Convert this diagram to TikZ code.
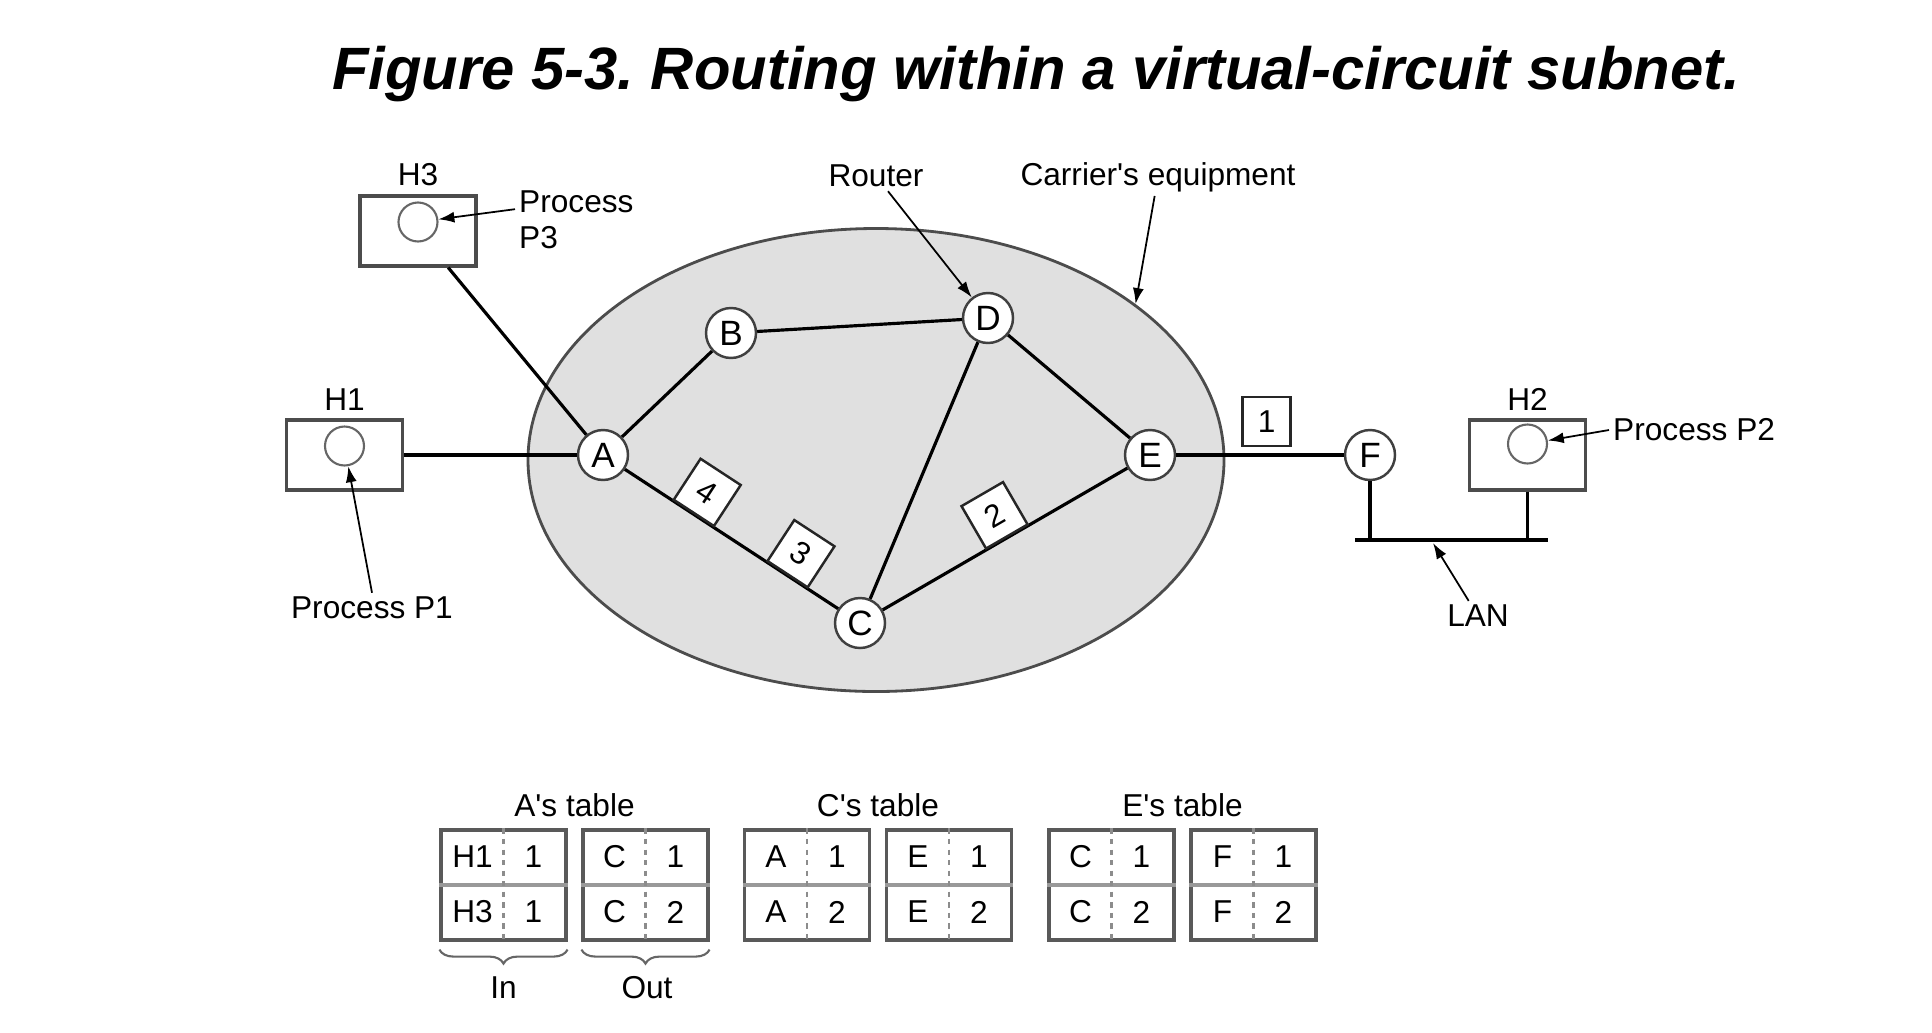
\documentclass[tikz,border=0pt]{standalone}
\usepackage{fontspec}
\setmainfont[Ligatures=TeXOff]{Liberation Sans}
\usepackage{tikz}
\usetikzlibrary{arrows.meta, positioning, calc, shapes.geometric, decorations.pathreplacing}
\tikzset{
	router/.style = {circle, draw=black!75, line width=0.7pt, fill=white, minimum size=0.5cm, inner sep=0pt, font=\fontsize{10}{12}\selectfont},
	host/.style = {rectangle, draw=black!70, line width=0.9pt, minimum width=1.16cm, minimum height=0.70cm, inner sep=0pt},
	proc/.style = {circle, draw=black!60, line width=0.6pt, minimum size=0.39cm, inner sep=0pt},
	link/.style = {line width=0.9pt},
	vcbox/.style = {rectangle, draw=black!85, line width=0.7pt, fill=white, minimum width=0.48cm, minimum height=0.49cm, inner sep=0pt},
	pointer/.style = {line width=0.5pt, -{Latex[length=1.6mm, width=1.1mm]}},
	tabbox/.style = {rectangle, draw=black!65, line width=0.9pt, minimum width=1.25cm, minimum height=1.10cm, inner sep=0pt},
	brace/.style = {decorate, decoration={brace, mirror, amplitude=0.14cm}, draw=black!60, line width=0.6pt}
}

\begin{document}
\begin{tikzpicture}
	\useasboundingbox (0,0) rectangle (19.32,10.32);
	\tikzstyle{every node}=[font=\fontsize{9}{10.2}\selectfont, inner sep=1pt]
	
	\pgfmathsetmacro{\yNet}{5.77}
	\pgfmathsetmacro{\yTab}{1.47}
	
	\node [font=\fontsize{17}{20}\selectfont\bfseries\itshape, anchor=base] (title) at (10.36,9.43) {Figure 5-3.\ Routing within a virtual-circuit subnet.};
	
	% carrier's subnet
	\node [ellipse, draw=black!70, line width=0.8pt, fill=black!12, minimum width=6.96cm, minimum height=4.63cm, inner sep=0pt] (net) at (8.76,5.72) {};
	
	\node [router] (A) at (6.03,\yNet) {A};
	\node [router] (B) at (7.31,6.99) {B};
	\node [router] (D) at (9.88,7.14) {D};
	\node [router] (E) at (11.50,\yNet) {E};
	\node [router] (C) at (8.60,4.09) {C};
	\node [router] (F) at (13.70,\yNet) {F};
	
	\node [host] (H3) at (4.18,8.01) {};
	\node [host] (H1) at (3.445,\yNet) {};
	\node [host] (H2) at (15.275,\yNet) {};
	\node [proc] (H3p) at ([yshift=0.09cm]H3.center) {};
	\node [proc] (H1p) at ([yshift=0.09cm]H1.center) {};
	\node [proc] (H2p) at ([yshift=0.11cm]H2.center) {};
	\node [above=0.04cm of H3] (H3lbl) {H3};
	\node [above=0.04cm of H1] (H1lbl) {H1};
	\node [above=0.04cm of H2] (H2lbl) {H2};
	
	\draw [link] (H3) -- (A);
	\draw [link] (H1) -- (A);
	\draw [link] (A) -- (B);
	\draw [link] (B) -- (D);
	\draw [link] (D) -- (E);
	\draw [link] (D) -- (C);
	\draw [link] (A) -- node [vcbox, pos=0.32, sloped, above] (vc4) {4} node [vcbox, pos=0.76, sloped, above] (vc3) {3} (C);
	\draw [link] (C) -- node [vcbox, pos=0.51, sloped, above] (vc2) {2} (E);
	\draw [link] (E) -- node [vcbox, pos=0.54, above=0.08cm] (vc1) {1} (F);
	
	% LAN
	\coordinate (lanL) at (13.55,4.92);
	\coordinate (lanR) at (15.48,4.92);
	\coordinate (lanTip) at (14.33,4.89);
	\draw [line width=1.2pt] (lanL) -- (lanR);
	\draw [link] (F) -- (F |- lanL);
	\draw [link] (H2) -- (H2 |- lanL);
	\node (lan) at (14.78,4.16) {LAN};
	\draw [pointer] (lan) -- (lanTip);
	
	\node [anchor=west, align=left] (P3lbl) at (5.15,8.12) {Process\\P3};
	\node (P1lbl) at (3.72,4.24) {Process P1};
	\node [anchor=west] (P2lbl) at (16.09,6.02) {Process P2};
	\node (rtr) at (8.76,8.56) {Router};
	\node (carr) at (11.58,8.55) {Carrier's equipment};
	\draw [pointer] (P3lbl.170) -- (H3p);
	\draw [pointer] (P1lbl.north) -- (H1p);
	\draw [pointer] (P2lbl.west) -- (H2p);
	\draw [pointer] (rtr) -- (D);
	\draw [pointer] (carr) -- (net.31.5);
	
	% routing tables
	\foreach \tname/\xc/\ina/\inb/\inval/\outn in {A/5.745/H1/H3/1/C, C/8.78/A/A/2/E, E/11.825/C/C/2/F}{
		\node (l\tname) at (\xc,2.27) {\tname's table};
		\node [tabbox] (t\tname i) at (\xc-0.71,\yTab) {};
		\node [tabbox] (t\tname o) at (\xc+0.71,\yTab) {};
		\foreach \b in {i,o}{
			\draw [color=black!40, line width=1.3pt] (t\tname\b.west) -- (t\tname\b.east);
			\draw [color=black!45, line width=0.8pt, dash pattern=on 1.5pt off 1.5pt] (t\tname\b.north) -- (t\tname\b.south);
		}
		\node (t\tname i1) at ([xshift=-0.31cm, yshift=0.28cm]t\tname i.center) {\ina};
		\node (t\tname i2) at ([xshift=0.30cm, yshift=0.28cm]t\tname i.center) {1};
		\node (t\tname i3) at ([xshift=-0.31cm, yshift=-0.27cm]t\tname i.center) {\inb};
		\node (t\tname i4) at ([xshift=0.30cm, yshift=-0.27cm]t\tname i.center) {\inval};
		\node (t\tname o1) at ([xshift=-0.31cm, yshift=0.28cm]t\tname o.center) {\outn};
		\node (t\tname o2) at ([xshift=0.30cm, yshift=0.28cm]t\tname o.center) {1};
		\node (t\tname o3) at ([xshift=-0.31cm, yshift=-0.27cm]t\tname o.center) {\outn};
		\node (t\tname o4) at ([xshift=0.30cm, yshift=-0.27cm]t\tname o.center) {2};
	}
	\draw [brace] ([yshift=-0.08cm]tAi.south west) -- ([yshift=-0.08cm]tAi.south east);
	\draw [brace] ([yshift=-0.08cm]tAo.south west) -- ([yshift=-0.08cm]tAo.south east);
	\node (inlbl) at (5.035,0.44) {In};
	\node (outlbl) at (6.47,0.44) {Out};
	
\end{tikzpicture}
\end{document}
